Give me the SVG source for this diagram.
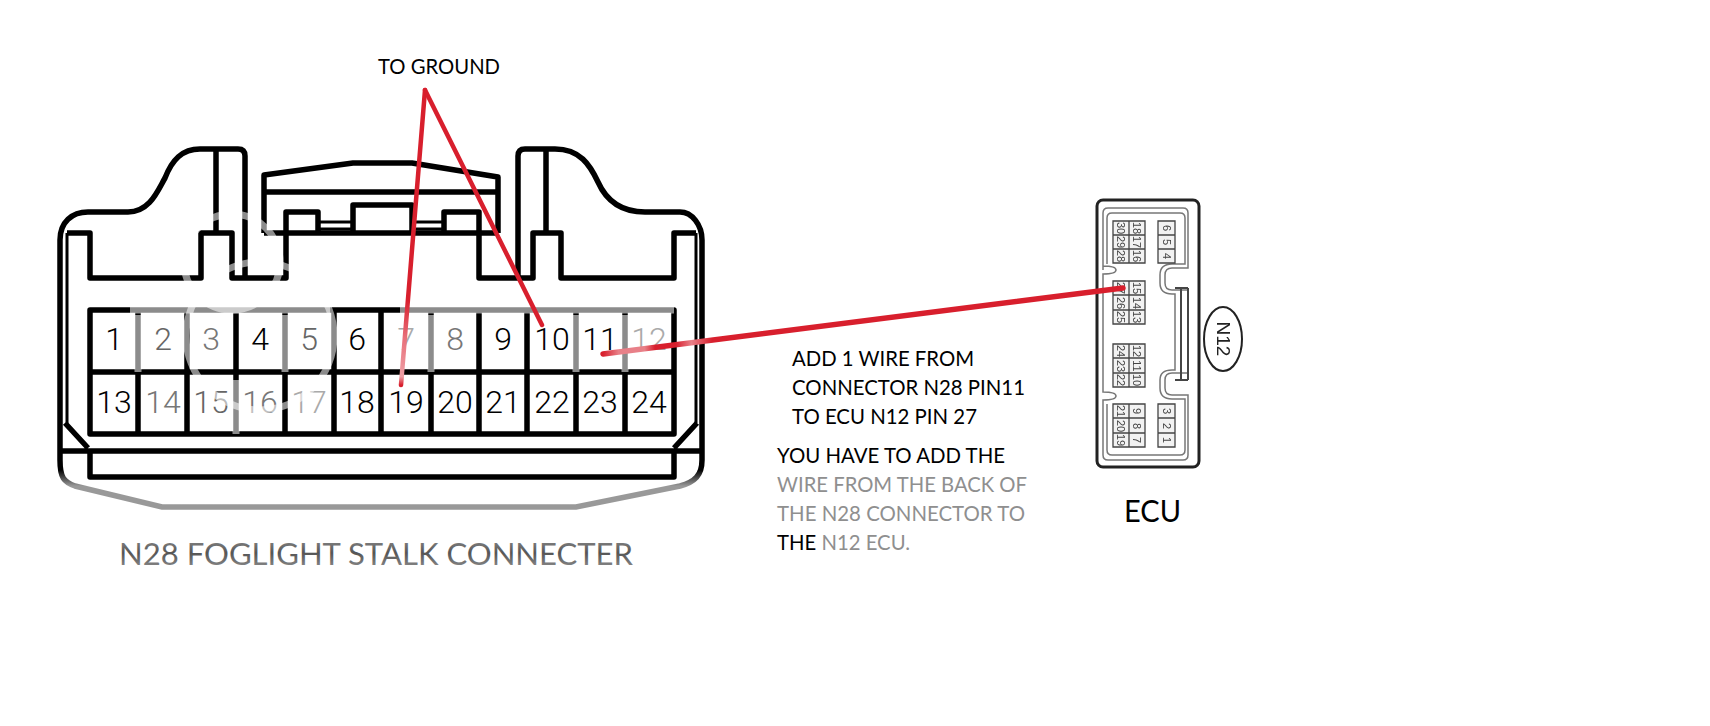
<svg xmlns="http://www.w3.org/2000/svg" width="1710" height="726" viewBox="0 0 1710 726">
<style>
.k{fill:none;stroke:#000;stroke-width:5.5;stroke-linejoin:round}
.t{fill:none;stroke:#000;stroke-width:3}
.w{fill:none;stroke:#fff;stroke-opacity:.55;stroke-width:7}
.pin{font-family:Roboto,"Liberation Sans",Arial,sans-serif;font-weight:300;font-size:32px;text-anchor:middle;fill:#000}
.lbl{font-family:Lato,"Liberation Sans",sans-serif;font-size:21px;fill:#000}
.gl{fill:#8f8f8f}
.wire{fill:none;stroke:#d81f2d;stroke-linecap:round}
.eo{fill:none;stroke:#222;stroke-width:3}
.ei{fill:none;stroke:#777;stroke-width:1.5}
.eb{fill:#f2f2f2;stroke:#444;stroke-width:1.3}
.en{font-family:"Liberation Sans",Arial,sans-serif;font-size:11px;fill:#444;text-anchor:middle}
</style>
<defs>
<filter id="soft" x="-5%" y="-5%" width="110%" height="110%"><feGaussianBlur stdDeviation=".45"/></filter>
<linearGradient id="fade" gradientUnits="userSpaceOnUse" x1="0" y1="470" x2="0" y2="486"><stop offset="0" stop-color="#000"/><stop offset="1" stop-color="#999"/></linearGradient>
<linearGradient id="w7" gradientUnits="userSpaceOnUse" x1="0" y1="300" x2="0" y2="385"><stop offset="0" stop-color="#d81f2d"/><stop offset=".45" stop-color="#e8707a"/><stop offset=".9" stop-color="#efa0a6"/><stop offset="1" stop-color="#d81f2d"/></linearGradient>
<linearGradient id="w11" gradientUnits="userSpaceOnUse" x1="603" y1="0" x2="1123" y2="0"><stop offset="0" stop-color="#d81f2d"/><stop offset=".03" stop-color="#e88088"/><stop offset=".08" stop-color="#e88088"/><stop offset=".1" stop-color="#d81f2d"/><stop offset=".14" stop-color="#d81f2d"/><stop offset=".17" stop-color="#e88088"/><stop offset=".21" stop-color="#d81f2d"/><stop offset="1" stop-color="#d81f2d"/></linearGradient>
<linearGradient id="capt" x1="0" y1="0" x2="0" y2="1"><stop offset="0" stop-color="#999"/><stop offset=".5" stop-color="#555"/><stop offset="1" stop-color="#999"/></linearGradient>
</defs>
<rect width="1710" height="726" fill="#fff"/>
<g id="n28-connector">
<path class="k" d="M60 240C60 222 72 212 88 212L128 212C150 212 158 190 165 178C172 160 182 149 200 149L238 149Q245 149 245 156L245 278"/>
<path class="k" d="M216 149V233M67 233H90V278H201V233H232V278H286V212H318V233M264 233H498M264 233V175L353 163H412L498 177V233M264 192H498"/>
<path class="k" d="M353 233V205H412V233M444 233V212H479V278H533V233H561V278H674V233H696M518 278V156Q518 149 525 149L555 149C580 149 590 165 598 182C606 200 620 212 645 212L680 212C692 212 702 225 702 240M546 149V233"/>
<path class="t" d="M318 222H353M412 222H444M318 229H353M412 229H444M67 233V423M696 233V423"/>
<path d="M60 240V460C60 478 64 482 75 486L162 507H576L680 486C695 482 702 475 702 460V240" fill="none" stroke="url(#fade)" stroke-width="5.5"/>
<path class="k" d="M90 310H674V434H90ZM90 372H674M138 310V434M187 310V434M236 310V434M285 310V434M334 310V434M381 310V434M431 310V434M479 310V434M527 310V434M576 310V434M625 310V434"/>
<path class="k" d="M60 451H702M65 423L88 448M697 423L674 448M90 451V477H674V451"/>
<text class="pin" x="114" y="350">1</text><text class="pin" x="163" y="350" style="fill:#666">2</text><text class="pin" x="211" y="350" style="fill:#777">3</text><text class="pin" x="260" y="350">4</text><text class="pin" x="309" y="350" style="fill:#666">5</text><text class="pin" x="357" y="350">6</text><text class="pin" x="406" y="350" style="fill:#aaa">7</text><text class="pin" x="455" y="350" style="fill:#777">8</text><text class="pin" x="503" y="350">9</text><text class="pin" x="552" y="350">10</text><text class="pin" x="600" y="350">11</text><text class="pin" x="649" y="350" style="fill:#aaa">12</text>
<text class="pin" x="114" y="413">13</text><text class="pin" x="163" y="413" style="fill:#777">14</text><text class="pin" x="211" y="413" style="fill:#666">15</text><text class="pin" x="260" y="413" style="fill:#777">16</text><text class="pin" x="309" y="413" style="fill:#aaa">17</text><text class="pin" x="357" y="413">18</text><text class="pin" x="406" y="413">19</text><text class="pin" x="455" y="413">20</text><text class="pin" x="503" y="413">21</text><text class="pin" x="552" y="413">22</text><text class="pin" x="600" y="413">23</text><text class="pin" x="649" y="413">24</text>
<circle class="w" cx="260" cy="336" r="74"/>
<circle class="w" cx="232" cy="262" r="48"/>
<path class="w" d="M130 310H330M400 310H674M138 315V372M285 315V372M236 380V434M625 315V372M576 315V372M431 315V372"/>
</g>
<g id="ecu">
<g filter="url(#soft)">
<rect class="eo" x="1097" y="200" width="102" height="267" rx="6"/>
<path class="ei" d="M1103 270V213Q1103 208 1108 208H1183Q1188 208 1188 213V268H1172Q1165 268 1165 275V283Q1165 290 1172 290H1188V373H1172Q1165 373 1165 380V388Q1165 395 1172 395H1188V455Q1188 460 1183 460H1108Q1103 460 1103 455V400Q1116 400 1116 396Q1116 392 1103 392V274Q1116 274 1116 270Q1116 266 1103 266"/>
<path class="ei" d="M1107 264V218Q1107 213 1112 213H1180Q1185 213 1185 218V264H1172Q1160 264 1160 275V283Q1160 294 1172 294H1175V370H1172Q1160 370 1160 380V388Q1160 399 1172 399H1185V450Q1185 455 1180 455H1112Q1107 455 1107 450V404"/>
<path d="M1175 288H1188M1175 380H1188M1188 288V380M1181 288V380" fill="none" stroke="#444" stroke-width="2"/>
<path class="eb" d="M1113 221H1145V263H1113ZM1129 221V263M1113 235H1145M1113 249H1145"/>
<path class="eb" d="M1158 221H1175V263H1158ZM1158 235H1175M1158 249H1175"/>
<path class="eb" d="M1113 281H1145V324H1113ZM1129 281V324M1113 295H1145M1113 310H1145"/>
<path class="eb" d="M1113 344H1145V387H1113ZM1129 344V387M1113 358H1145M1113 373H1145"/>
<path class="eb" d="M1113 404H1145V447H1113ZM1129 404V447M1113 418H1145M1113 433H1145"/>
<path class="eb" d="M1158 404H1175V447H1158ZM1158 418H1175M1158 433H1175"/>
<g class="en">
<text transform="translate(1117 228) rotate(90)">30</text><text transform="translate(1117 242) rotate(90)">29</text><text transform="translate(1117 256) rotate(90)">28</text>
<text transform="translate(1133 228) rotate(90)">18</text><text transform="translate(1133 242) rotate(90)">17</text><text transform="translate(1133 256) rotate(90)">16</text>
<text transform="translate(1163 228) rotate(90)">6</text><text transform="translate(1163 242) rotate(90)">5</text><text transform="translate(1163 256) rotate(90)">4</text>
<text transform="translate(1117 288) rotate(90)">27</text><text transform="translate(1117 303) rotate(90)">26</text><text transform="translate(1117 317) rotate(90)">25</text>
<text transform="translate(1133 288) rotate(90)">15</text><text transform="translate(1133 303) rotate(90)">14</text><text transform="translate(1133 317) rotate(90)">13</text>
<text transform="translate(1117 351) rotate(90)">24</text><text transform="translate(1117 366) rotate(90)">23</text><text transform="translate(1117 380) rotate(90)">22</text>
<text transform="translate(1133 351) rotate(90)">12</text><text transform="translate(1133 366) rotate(90)">11</text><text transform="translate(1133 380) rotate(90)">10</text>
<text transform="translate(1117 411) rotate(90)">21</text><text transform="translate(1117 426) rotate(90)">20</text><text transform="translate(1117 440) rotate(90)">19</text>
<text transform="translate(1133 411) rotate(90)">9</text><text transform="translate(1133 426) rotate(90)">8</text><text transform="translate(1133 440) rotate(90)">7</text>
<text transform="translate(1163 411) rotate(90)">3</text><text transform="translate(1163 426) rotate(90)">2</text><text transform="translate(1163 440) rotate(90)">1</text>
</g>
<ellipse cx="1223" cy="339" rx="19" ry="32" fill="#fff" stroke="#222" stroke-width="2"/>
<text transform="translate(1217 339) rotate(90)" font-family="'Liberation Sans',Arial,sans-serif" font-size="19" text-anchor="middle" fill="#222">N12</text>
</g>
</g>
<g id="connectors">
<path d="M425 90L401 385" fill="none" stroke="url(#w7)" stroke-width="4.5" stroke-linecap="round"/>
<path class="wire" stroke-width="4.5" d="M425 90L542 325"/>
<path d="M603 354L1123 288" fill="none" stroke="url(#w11)" stroke-width="5.5" stroke-linecap="round"/>
</g>
<g id="labels">
<text class="lbl" x="378" y="74" textLength="122" lengthAdjust="spacingAndGlyphs">TO GROUND</text>
<text class="lbl" x="1124" y="522" style="font-size:31px" textLength="57" lengthAdjust="spacingAndGlyphs">ECU</text>
<text class="lbl" x="119" y="565" style="font-size:31px;fill:url(#capt)" textLength="514" lengthAdjust="spacingAndGlyphs">N28 FOGLIGHT STALK CONNECTER</text>
<text class="lbl" x="792" y="366" textLength="182" lengthAdjust="spacingAndGlyphs">ADD 1 WIRE FROM</text>
<text class="lbl" x="792" y="395" textLength="233" lengthAdjust="spacingAndGlyphs">CONNECTOR N28 PIN11</text>
<text class="lbl" x="792" y="424" textLength="185" lengthAdjust="spacingAndGlyphs">TO ECU N12 PIN 27</text>
<text class="lbl" x="777" y="463" textLength="228" lengthAdjust="spacingAndGlyphs">YOU HAVE TO ADD THE</text>
<text class="lbl gl" x="777" y="492" textLength="250" lengthAdjust="spacingAndGlyphs">WIRE FROM THE BACK OF</text>
<text class="lbl gl" x="777" y="521" textLength="248" lengthAdjust="spacingAndGlyphs">THE N28 CONNECTOR TO</text>
<text class="lbl" x="777" y="550" textLength="133" lengthAdjust="spacingAndGlyphs">THE <tspan fill="#8f8f8f">N12 ECU.</tspan></text>
</g>
</svg>
